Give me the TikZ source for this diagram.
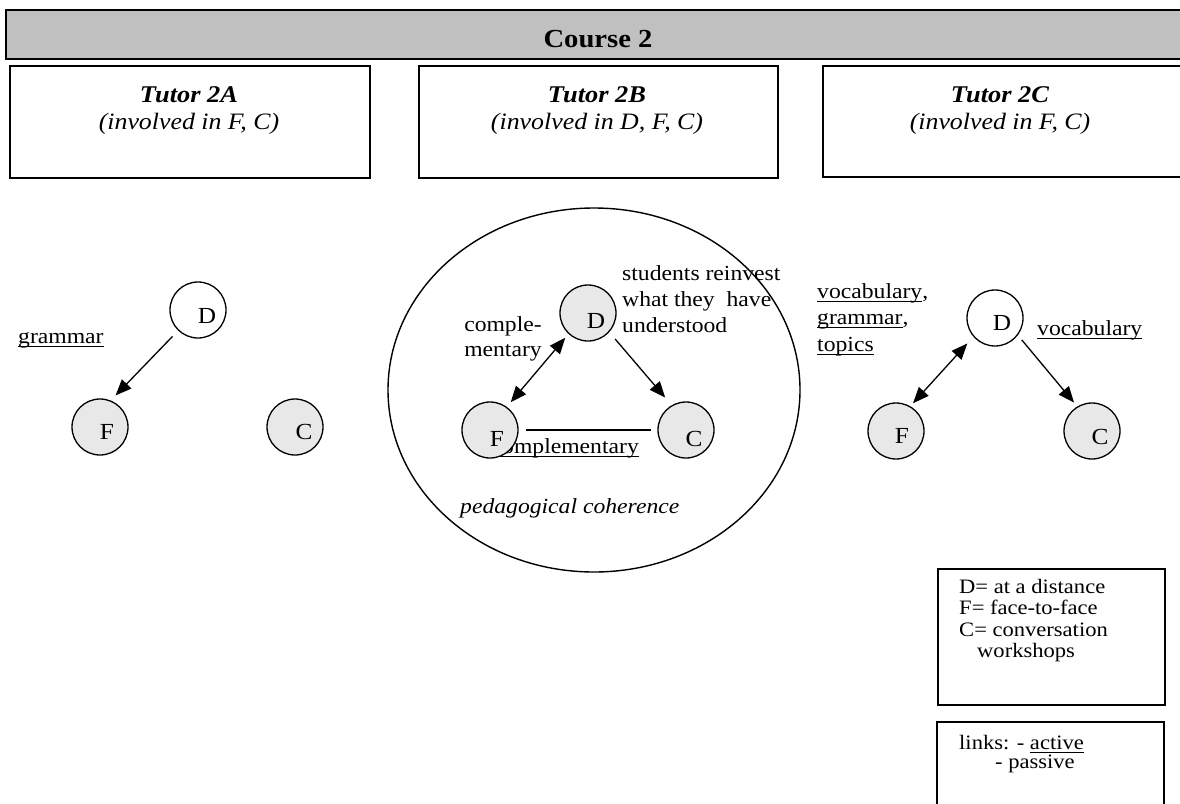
\documentclass[tikz,border=0pt]{standalone}
\usepackage{fontspec}
\setmainfont{Liberation Serif}[FakeStretch=1.1]
\usetikzlibrary{shapes.geometric,arrows.meta}
\definecolor{barg}{RGB}{192,192,192}
\definecolor{cgray}{RGB}{232,232,232}
\newcommand\myul[1]{\setbox0=\hbox{#1}\rlap{\rule[-3.5pt]{\wd0}{1pt}}\box0}
\begin{document}
\begin{tikzpicture}[x=1pt,y=-1pt,
  box/.style={draw, rectangle, line width=1.6pt, inner sep=0pt},
  circ/.style={circle, draw, line width=1.3pt, minimum size=56pt, inner sep=0pt, fill=white},
  act/.style={circ, fill=cgray},
  lab/.style={inner sep=0pt, font=\fontsize{23}{26}\selectfont},
  txt/.style={inner sep=0pt, font=\fontsize{21.5}{26}\selectfont},
  leg/.style={inner sep=0pt, font=\fontsize{20.5}{21.3}\selectfont, align=left, anchor=north west},
  tut/.style={inner sep=0pt, anchor=base, font=\fontsize{24}{28}\selectfont\bfseries\itshape},
  inv/.style={inner sep=0pt, anchor=base, font=\fontsize{23.5}{28}\selectfont\itshape},
  arr/.style={line width=1.3pt, -{Triangle[length=16pt,width=13pt]}},
  darr/.style={line width=1.3pt, {Triangle[length=16pt,width=13pt]}-{Triangle[length=16pt,width=13pt]}},
  plain/.style={line width=1.3pt}
]
\useasboundingbox (0,0) rectangle (1180,803);

% header
\node[box, fill=barg, minimum width=1180pt, minimum height=49pt, anchor=north west] (bar) at (5,9) {};
\node[inner sep=0pt, anchor=base, font=\fontsize{26}{30}\selectfont\bfseries] (title) at (598,47) {Course 2};

\node[box, minimum width=360pt, minimum height=112pt, anchor=north west] (tA) at (9,65) {};
\node[box, minimum width=359pt, minimum height=112pt, anchor=north west] (tB) at (418,65) {};
\node[box, minimum width=370pt, minimum height=111pt, anchor=north west] (tC) at (822,65) {};
\node[tut] (tAa) at (189,102) {Tutor 2A};
\node[inv] (tAb) at (189,129) {(involved in F, C)};
\node[tut] (tBa) at (597,102) {Tutor 2B};
\node[inv] (tBb) at (597,129) {(involved in D, F, C)};
\node[tut] (tCa) at (1000,102) {Tutor 2C};
\node[inv] (tCb) at (1000,129) {(involved in F, C)};

% left group
\node[circ] (lD) at (198,310) {};
\node[act] (lF) at (100,427) {};
\node[act] (lC) at (295,427) {};
\node[lab] (lDt) at (207,316) {D};
\node[lab] (lFt) at (107,432) {F};
\node[lab] (lCt) at (304,432) {C};
\draw[arr, shorten <=8pt, shorten >=7pt] (lD.226) -- (lF.68);
\node[txt, anchor=base west] (gram) at (18,343) {\myul{grammar}};

% middle group
\node[draw, ellipse, line width=1.4pt, minimum width=412pt, minimum height=364pt, inner sep=0pt] (ell) at (594,390) {};
\node[txt, anchor=base east] (compl2) at (639,453) {\myul{complementary}};
\node[act] (mD) at (588,313) {};
\node[act] (mF) at (490,430) {};
\node[act] (mC) at (686,430) {};
\node[lab] (mDt) at (596,321) {D};
\node[lab] (mFt) at (497,439) {F};
\node[lab] (mCt) at (694,439) {C};
\draw[darr, shorten <=5pt, shorten >=6pt] (mD.227) -- (mF.54);
\draw[arr, shorten <=9pt, shorten >=10pt] (mD.318) -- (mC.120);
\draw[plain, shorten <=7pt, shorten >=6pt] (mF.east) -- (mC.west);
\node[txt, align=center, anchor=north, font=\fontsize{21.5}{25}\selectfont] (compl1) at (503,316) {comple-\\mentary};
\node[txt, align=left, anchor=north west] (stud) at (622,265) {students reinvest\\what they~ have\\understood};
\node[txt, anchor=base west, font=\fontsize{21.5}{26}\selectfont\itshape] (ped) at (460,513) {pedagogical coherence};

% right group
\node[circ] (rD) at (995,318) {};
\node[act] (rF) at (896,431) {};
\node[act] (rC) at (1092,431) {};
\node[lab] (rDt) at (1002,323) {D};
\node[lab] (rFt) at (902,436) {F};
\node[lab] (rCt) at (1100,437) {C};
\draw[darr, shorten <=9pt, shorten >=4pt] (rD.221) -- (rF.60);
\draw[arr, shorten <=6pt, shorten >=5pt] (rD.323) -- (rC.121);
\node[txt, align=left, anchor=north west, font=\fontsize{21.5}{26.5}\selectfont] (vgt) at (817,283) {\myul{vocabulary},\\\myul{grammar},\\\myul{topics}};
\node[txt, anchor=base west] (voc) at (1037,335) {\myul{vocabulary}};

% legend
\node[box, minimum width=227pt, minimum height=136pt, anchor=north west] (leg1) at (937,568) {};
\node[leg] (leg1t) at (959,579) {D= at a distance\\F= face-to-face\\C= conversation\\\hspace*{18pt}workshops};
\draw[line width=1.6pt] (937,810) -- (937,722) -- (1164,722) -- (1164,810);
\node[leg, font=\fontsize{20.5}{19.5}\selectfont] (leg2t) at (959,735) {links: - \myul{active}\\\hspace*{36pt}- passive};
\end{tikzpicture}
\end{document}
